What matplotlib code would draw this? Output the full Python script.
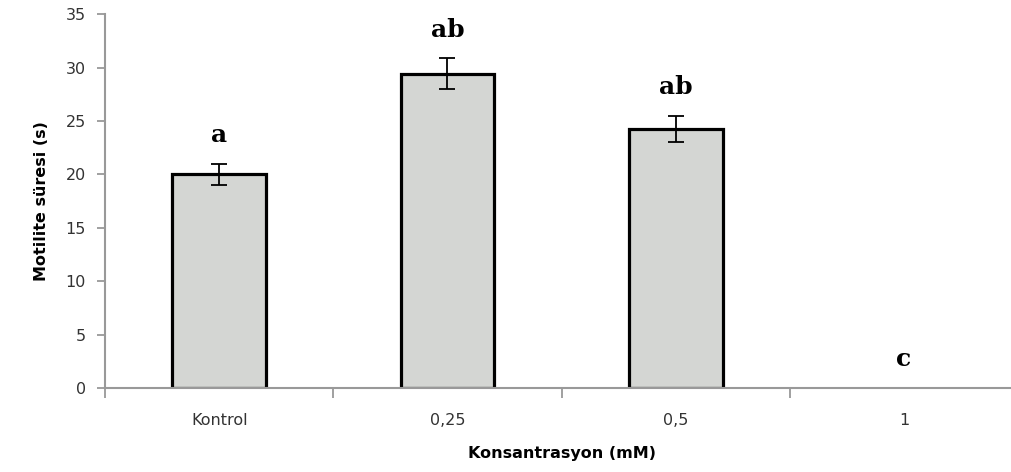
import matplotlib
matplotlib.use("Agg")
import matplotlib.pyplot as plt
import numpy as np

# Data
categories = ["Kontrol", "0,25", "0,5", "1"]
means = [20.0, 29.4, 24.25, 0.0]
errors = [1.0, 1.45, 1.25, 0.0]
letters = ["a", "ab", "ab", "c"]

fig = plt.figure(figsize=(10.11, 4.72), dpi=100)
ax = fig.add_axes([0.104, 0.178, 0.903, 0.792])

x = np.arange(len(categories))
# zero-height bars get no outline (nothing visible in the original)
edge_w = [2.3 if m > 0 else 0 for m in means]
ax.bar(x, means, width=0.41, color="#d4d6d3", edgecolor="black", linewidth=edge_w, zorder=2)

has_bar = np.array(means) > 0
ax.errorbar(x[has_bar], np.array(means)[has_bar], yerr=np.array(errors)[has_bar],
            fmt="none", ecolor="black", elinewidth=1.3, capsize=6, capthick=1.3, zorder=3)

for xi, m, e, lab in zip(x, means, errors, letters):
    ax.text(xi, m + e + 2.7, lab, ha="center", va="center",
            fontsize=18, fontweight="bold", family="DejaVu Serif", color="black")

ax.set_xlim(-0.5, len(categories) - 0.5)
ax.set_ylim(0, 35)
ax.set_yticks(range(0, 36, 5))
ax.set_xticks(x)
ax.set_xticklabels(categories)
ax.set_xticks(np.arange(-0.5, len(categories), 1), minor=True)

for side in ["top", "right"]:
    ax.spines[side].set_visible(False)
for side in ["left", "bottom"]:
    ax.spines[side].set_color("#999999")
    ax.spines[side].set_linewidth(1.5)

ax.tick_params(axis="y", direction="out", length=6, width=1.3, color="#999999",
               labelsize=11.5, labelcolor="#333333", pad=8)
ax.tick_params(axis="x", which="major", length=0, labelsize=11.5, labelcolor="#333333", pad=18)
ax.tick_params(axis="x", which="minor", direction="out", length=7, width=1.3, color="#999999")

ax.set_ylabel("Motilite süresi (s)", fontsize=11.5, fontweight="bold", labelpad=12)
ax.set_xlabel("Konsantrasyon (mM)", fontsize=11.5, fontweight="bold", labelpad=13)

fig.savefig("out.png", dpi=100)
